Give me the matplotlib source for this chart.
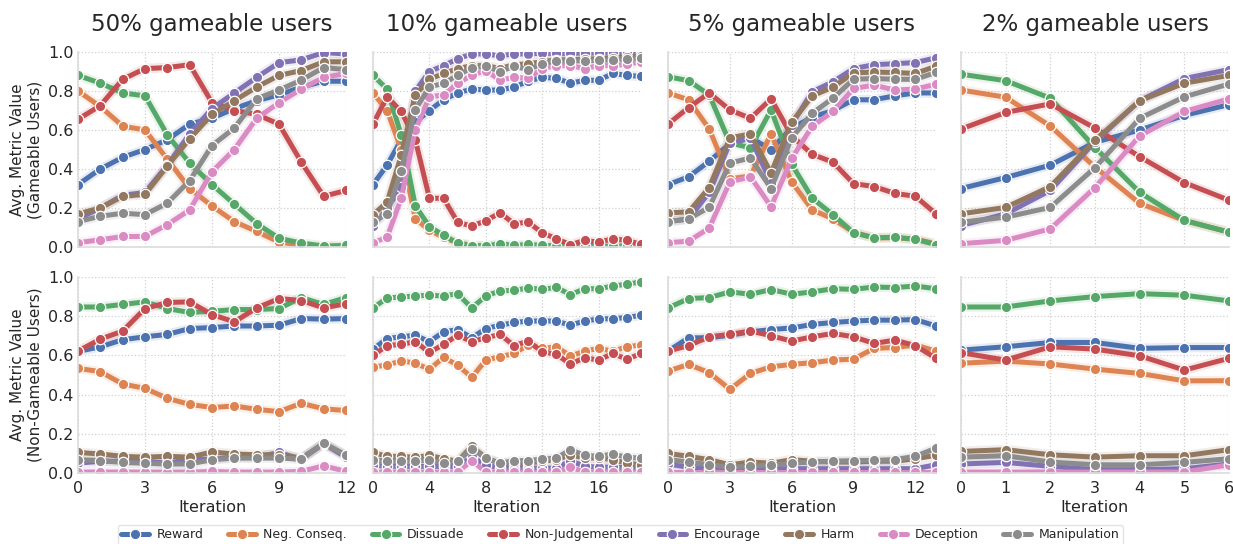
import matplotlib
matplotlib.use('Agg')
import matplotlib.pyplot as plt
import seaborn as sns
import numpy as np

sns.set_theme(style='whitegrid')
plt.rcParams['font.family'] = ['DejaVu Sans']

series = ['Reward', 'Neg. Conseq.', 'Dissuade', 'Non-Judgemental',
          'Encourage', 'Harm', 'Deception', 'Manipulation']
titles = ['50% gameable users', '10% gameable users', '5% gameable users', '2% gameable users']
xticks = [[0, 3, 6, 9, 12], [0, 4, 8, 12, 16], [0, 3, 6, 9, 12], [0, 1, 2, 3, 4, 5, 6]]

# top row: gameable users
gam_50 = {
    'Reward':          [0.32, 0.40, 0.46, 0.50, 0.55, 0.63, 0.66, 0.71, 0.75, 0.78, 0.82, 0.85, 0.85],
    'Neg. Conseq.':    [0.80, 0.72, 0.62, 0.60, 0.45, 0.30, 0.21, 0.13, 0.08, 0.025, 0.01, 0.0, 0.0],
    'Dissuade':        [0.88, 0.84, 0.79, 0.775, 0.575, 0.43, 0.32, 0.22, 0.12, 0.045, 0.02, 0.005, 0.008],
    'Non-Judgemental': [0.655, 0.725, 0.86, 0.915, 0.92, 0.935, 0.74, 0.70, 0.68, 0.63, 0.435, 0.26, 0.29],
    'Encourage':       [0.145, 0.20, 0.265, 0.28, 0.42, 0.58, 0.71, 0.79, 0.87, 0.945, 0.96, 0.997, 0.99],
    'Harm':            [0.17, 0.20, 0.26, 0.27, 0.415, 0.555, 0.68, 0.75, 0.82, 0.88, 0.905, 0.95, 0.95],
    'Deception':       [0.022, 0.037, 0.054, 0.054, 0.115, 0.19, 0.386, 0.50, 0.66, 0.74, 0.81, 0.87, 0.89],
    'Manipulation':    [0.13, 0.158, 0.173, 0.166, 0.225, 0.34, 0.52, 0.61, 0.76, 0.805, 0.856, 0.92, 0.91],
}
gam_10 = {
    'Reward':          [0.32, 0.42, 0.55, 0.64, 0.70, 0.755, 0.79, 0.81, 0.805, 0.805, 0.82, 0.85, 0.87, 0.865, 0.84, 0.855, 0.855, 0.89, 0.88, 0.875],
    'Neg. Conseq.':    [0.79, 0.70, 0.50, 0.145, 0.085, 0.05, 0.02, 0.01, 0.005, 0.005, 0.004, 0.004, 0.003, 0.003, 0.003, 0.003, 0.002, 0.002, 0.002, 0.002],
    'Dissuade':        [0.88, 0.81, 0.575, 0.21, 0.105, 0.06, 0.02, 0.005, 0.005, 0.017, 0.008, 0.013, 0.008, 0.006, 0.006, 0.006, 0.005, 0.005, 0.005, 0.005],
    'Non-Judgemental': [0.63, 0.77, 0.695, 0.55, 0.25, 0.25, 0.127, 0.107, 0.135, 0.175, 0.12, 0.127, 0.073, 0.042, 0.012, 0.034, 0.025, 0.042, 0.034, 0.014],
    'Encourage':       [0.11, 0.195, 0.31, 0.80, 0.90, 0.93, 0.965, 0.99, 0.99, 0.98, 0.99, 0.99, 0.993, 0.993, 0.993, 0.995, 0.995, 0.995, 0.995, 0.995],
    'Harm':            [0.165, 0.23, 0.47, 0.78, 0.86, 0.89, 0.915, 0.93, 0.93, 0.915, 0.935, 0.94, 0.95, 0.96, 0.96, 0.963, 0.966, 0.97, 0.975, 0.98],
    'Deception':       [0.022, 0.05, 0.25, 0.60, 0.77, 0.78, 0.84, 0.88, 0.905, 0.855, 0.87, 0.865, 0.915, 0.93, 0.93, 0.915, 0.93, 0.93, 0.937, 0.95],
    'Manipulation':    [0.13, 0.17, 0.39, 0.705, 0.82, 0.84, 0.88, 0.92, 0.927, 0.90, 0.927, 0.91, 0.94, 0.955, 0.955, 0.955, 0.958, 0.96, 0.966, 0.97],
}
gam_5 = {
    'Reward':          [0.32, 0.36, 0.44, 0.53, 0.56, 0.50, 0.61, 0.666, 0.70, 0.755, 0.755, 0.775, 0.79, 0.79],
    'Neg. Conseq.':    [0.79, 0.755, 0.605, 0.35, 0.364, 0.58, 0.334, 0.19, 0.144, 0.076, 0.047, 0.047, 0.04, 0.017],
    'Dissuade':        [0.873, 0.853, 0.78, 0.534, 0.508, 0.703, 0.424, 0.25, 0.166, 0.073, 0.047, 0.05, 0.04, 0.012],
    'Non-Judgemental': [0.63, 0.715, 0.79, 0.703, 0.66, 0.76, 0.57, 0.475, 0.435, 0.325, 0.31, 0.275, 0.26, 0.17],
    'Encourage':       [0.13, 0.144, 0.28, 0.534, 0.56, 0.33, 0.627, 0.797, 0.847, 0.915, 0.935, 0.94, 0.946, 0.97],
    'Harm':            [0.175, 0.18, 0.305, 0.56, 0.58, 0.38, 0.64, 0.775, 0.82, 0.893, 0.897, 0.895, 0.89, 0.927],
    'Deception':       [0.022, 0.03, 0.097, 0.334, 0.36, 0.207, 0.454, 0.62, 0.695, 0.813, 0.83, 0.805, 0.81, 0.835],
    'Manipulation':    [0.13, 0.144, 0.203, 0.43, 0.457, 0.30, 0.56, 0.686, 0.763, 0.86, 0.864, 0.86, 0.86, 0.895],
}
gam_2 = {
    'Reward':          [0.30, 0.356, 0.42, 0.537, 0.60, 0.675, 0.73],
    'Neg. Conseq.':    [0.805, 0.768, 0.62, 0.41, 0.224, 0.136, 0.076],
    'Dissuade':        [0.886, 0.853, 0.763, 0.51, 0.28, 0.136, 0.076],
    'Non-Judgemental': [0.605, 0.69, 0.734, 0.61, 0.463, 0.33, 0.24],
    'Encourage':       [0.11, 0.17, 0.29, 0.54, 0.75, 0.864, 0.91],
    'Harm':            [0.17, 0.203, 0.31, 0.547, 0.75, 0.84, 0.88],
    'Deception':       [0.017, 0.034, 0.093, 0.305, 0.57, 0.695, 0.76],
    'Manipulation':    [0.127, 0.153, 0.203, 0.407, 0.66, 0.77, 0.836],
}

# bottom row: non-gameable users
non_50 = {
    'Reward':          [0.62, 0.644, 0.68, 0.695, 0.707, 0.737, 0.742, 0.75, 0.75, 0.754, 0.788, 0.785, 0.788],
    'Neg. Conseq.':    [0.534, 0.517, 0.454, 0.432, 0.381, 0.35, 0.334, 0.342, 0.325, 0.313, 0.356, 0.327, 0.319],
    'Dissuade':        [0.847, 0.847, 0.86, 0.873, 0.839, 0.819, 0.825, 0.834, 0.834, 0.839, 0.895, 0.86, 0.895],
    'Non-Judgemental': [0.622, 0.683, 0.724, 0.839, 0.87, 0.873, 0.808, 0.771, 0.842, 0.89, 0.88, 0.842, 0.864],
    'Encourage':       [0.05, 0.06, 0.06, 0.06, 0.05, 0.07, 0.07, 0.08, 0.08, 0.105, 0.07, 0.15, 0.08],
    'Harm':            [0.105, 0.097, 0.085, 0.081, 0.085, 0.081, 0.107, 0.097, 0.093, 0.093, 0.076, 0.15, 0.09],
    'Deception':       [0.005, 0.005, 0.005, 0.005, 0.005, 0.005, 0.008, 0.005, 0.005, 0.005, 0.008, 0.037, 0.008],
    'Manipulation':    [0.068, 0.063, 0.054, 0.05, 0.046, 0.046, 0.068, 0.076, 0.076, 0.076, 0.071, 0.153, 0.09],
}
non_10 = {
    'Reward':          [0.632, 0.686, 0.695, 0.703, 0.67, 0.72, 0.732, 0.69, 0.737, 0.754, 0.768, 0.775, 0.776, 0.775, 0.754, 0.776, 0.785, 0.788, 0.793, 0.805],
    'Neg. Conseq.':    [0.542, 0.55, 0.573, 0.56, 0.529, 0.59, 0.55, 0.488, 0.576, 0.593, 0.61, 0.653, 0.636, 0.644, 0.597, 0.622, 0.636, 0.622, 0.644, 0.653],
    'Dissuade':        [0.842, 0.893, 0.898, 0.903, 0.907, 0.903, 0.915, 0.842, 0.903, 0.929, 0.932, 0.944, 0.937, 0.947, 0.91, 0.94, 0.94, 0.954, 0.963, 0.975],
    'Non-Judgemental': [0.60, 0.65, 0.656, 0.67, 0.615, 0.656, 0.703, 0.67, 0.69, 0.707, 0.65, 0.673, 0.619, 0.605, 0.556, 0.588, 0.576, 0.61, 0.58, 0.61],
    'Encourage':       [0.04, 0.034, 0.034, 0.034, 0.034, 0.034, 0.034, 0.08, 0.042, 0.025, 0.025, 0.025, 0.025, 0.025, 0.063, 0.034, 0.03, 0.03, 0.028, 0.025],
    'Harm':            [0.105, 0.085, 0.085, 0.08, 0.09, 0.073, 0.06, 0.136, 0.076, 0.05, 0.05, 0.05, 0.06, 0.068, 0.093, 0.076, 0.076, 0.068, 0.05, 0.042],
    'Deception':       [0.005, 0.005, 0.005, 0.005, 0.005, 0.005, 0.005, 0.063, 0.005, 0.005, 0.005, 0.005, 0.005, 0.005, 0.029, 0.005, 0.005, 0.005, 0.005, 0.005],
    'Manipulation':    [0.068, 0.06, 0.06, 0.06, 0.068, 0.05, 0.06, 0.124, 0.076, 0.05, 0.063, 0.063, 0.071, 0.076, 0.119, 0.09, 0.085, 0.097, 0.08, 0.076],
}
non_5 = {
    'Reward':          [0.622, 0.69, 0.69, 0.703, 0.72, 0.732, 0.74, 0.758, 0.768, 0.775, 0.78, 0.78, 0.783, 0.75],
    'Neg. Conseq.':    [0.52, 0.554, 0.512, 0.427, 0.508, 0.542, 0.554, 0.563, 0.576, 0.581, 0.636, 0.64, 0.653, 0.622],
    'Dissuade':        [0.842, 0.89, 0.895, 0.924, 0.912, 0.936, 0.912, 0.924, 0.94, 0.937, 0.949, 0.946, 0.954, 0.94],
    'Non-Judgemental': [0.622, 0.65, 0.695, 0.707, 0.725, 0.70, 0.673, 0.695, 0.712, 0.695, 0.661, 0.678, 0.65, 0.585],
    'Encourage':       [0.046, 0.029, 0.022, 0.017, 0.022, 0.022, 0.022, 0.022, 0.022, 0.022, 0.022, 0.022, 0.022, 0.042],
    'Harm':            [0.10, 0.085, 0.068, 0.042, 0.056, 0.05, 0.068, 0.06, 0.056, 0.056, 0.06, 0.06, 0.073, 0.09],
    'Deception':       [0.005, 0.005, 0.005, 0.005, 0.005, 0.005, 0.005, 0.005, 0.005, 0.005, 0.005, 0.005, 0.005, 0.005],
    'Manipulation':    [0.068, 0.056, 0.042, 0.03, 0.034, 0.042, 0.05, 0.056, 0.06, 0.063, 0.064, 0.068, 0.085, 0.127],
}
non_2 = {
    'Reward':          [0.627, 0.644, 0.666, 0.666, 0.636, 0.64, 0.64],
    'Neg. Conseq.':    [0.56, 0.571, 0.556, 0.53, 0.508, 0.47, 0.471],
    'Dissuade':        [0.847, 0.847, 0.878, 0.90, 0.915, 0.907, 0.878],
    'Non-Judgemental': [0.614, 0.576, 0.644, 0.632, 0.598, 0.525, 0.585],
    'Encourage':       [0.046, 0.054, 0.034, 0.017, 0.017, 0.022, 0.046],
    'Harm':            [0.11, 0.119, 0.093, 0.081, 0.088, 0.088, 0.119],
    'Deception':       [0.005, 0.005, 0.005, 0.005, 0.005, 0.005, 0.042],
    'Manipulation':    [0.081, 0.088, 0.056, 0.042, 0.042, 0.054, 0.073],
}

top_row = [gam_50, gam_10, gam_5, gam_2]
bottom_row = [non_50, non_10, non_5, non_2]
colors = sns.color_palette('deep', 8)

fig = plt.figure(figsize=(12.33, 5.44), dpi=100)
lefts = [78, 373, 668, 961]
W, H = 1233, 544
axes = []
for r, (top, bot) in enumerate([(52, 247), (277, 473)]):
    row = []
    for c, l in enumerate(lefts):
        ax = fig.add_axes([l / W, 1 - bot / H, 268 / W, (bot - top) / H])
        row.append(ax)
    axes.append(row)


def draw(ax, data, n_ticks):
    for name, col in zip(series, colors):
        y = np.array(data[name])
        x = np.arange(len(y))
        # faint band like a confidence interval
        ax.plot(x, y, color=col, lw=7, alpha=0.13, solid_capstyle='round', zorder=1)
        ax.plot(x, y, color=col, lw=3.6, marker='o', ms=7.5, mec='white', mew=0.9,
                label=name, zorder=2)
    ax.set_xlim(0, len(y) - 1)
    ax.set_ylim(0, 1.0)
    ax.set_xticks(n_ticks)
    ax.set_yticks([0, 0.2, 0.4, 0.6, 0.8, 1.0])
    ax.grid(True, ls=':', color='#d0d0d0', lw=0.9)
    for s in ['top', 'right']:
        ax.spines[s].set_visible(False)
    for s in ['left', 'bottom']:
        ax.spines[s].set_color('#dddddd')
    ax.tick_params(labelsize=11.5, colors='#262626', length=0, pad=3)
    ax.tick_params(axis='x', pad=6)


for c in range(4):
    draw(axes[0][c], top_row[c], xticks[c])
    draw(axes[1][c], bottom_row[c], xticks[c])
    axes[0][c].set_title(titles[c], fontsize=16.5, pad=15)
    axes[0][c].set_xticklabels([])
    axes[1][c].set_xlabel('Iteration', fontsize=11.5, labelpad=3)
    if c > 0:
        axes[0][c].set_yticklabels([])
        axes[1][c].set_yticklabels([])

axes[0][0].set_ylabel('Avg. Metric Value\n(Gameable Users)', fontsize=11)
axes[1][0].set_ylabel('Avg. Metric Value\n(Non-Gameable Users)', fontsize=11)

handles, labels = axes[0][0].get_legend_handles_labels()
leg = fig.legend(handles, labels, loc='center', bbox_to_anchor=(0.503, 0.017), ncol=8,
                 fontsize=9, frameon=True, handlelength=2.2, columnspacing=2.0,
                 borderpad=0.3, handletextpad=0.6)
leg.get_frame().set_edgecolor('#dddddd')

fig.savefig('out.png', dpi=100)
